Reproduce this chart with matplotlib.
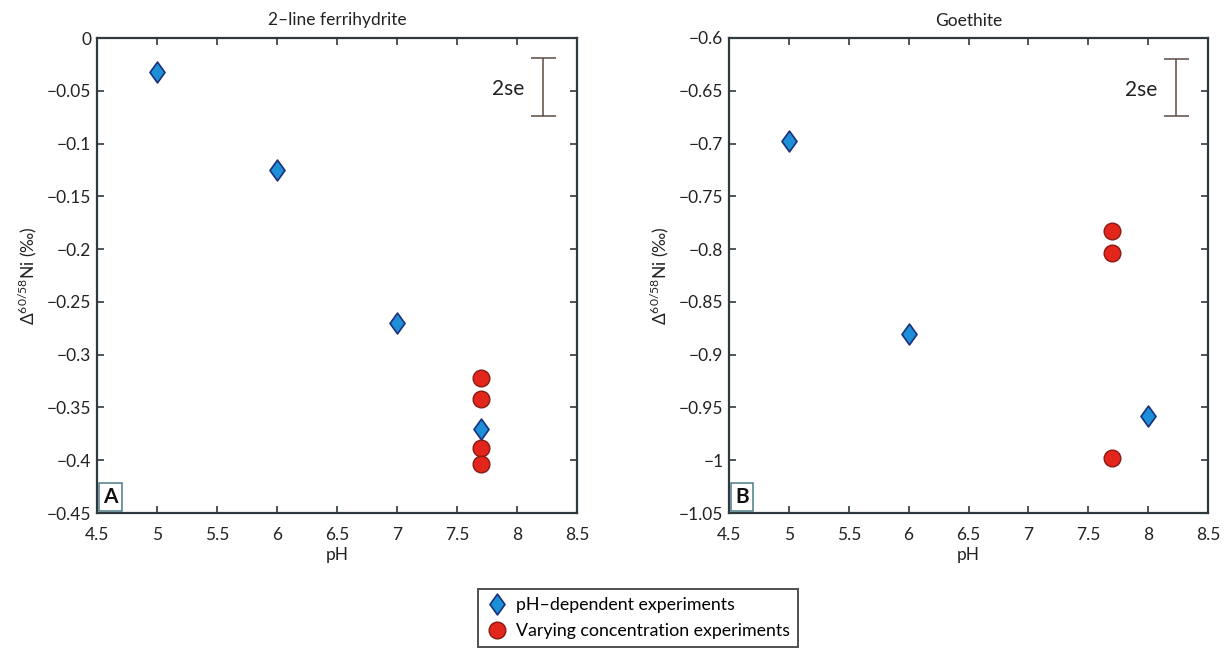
import numpy as np
import matplotlib.pyplot as plt
from matplotlib.path import Path
from matplotlib.lines import Line2D

plt.rcParams['font.family'] = ['Lato', 'DejaVu Sans']
plt.rcParams['mathtext.fontset'] = 'custom'
plt.rcParams['mathtext.rm'] = 'Lato'

# panel A: 2-line ferrihydrite
ph_a_diamond = [5, 6, 7, 7.7]
d_a_diamond = [-0.032, -0.125, -0.270, -0.370]
ph_a_circle = [7.7, 7.7, 7.7, 7.7]
d_a_circle = [-0.322, -0.342, -0.388, -0.404]
se_a = [8.22, -0.019, -0.074]   # x, top, bottom

# panel B: goethite
ph_b_diamond = [5, 6, 8]
d_b_diamond = [-0.698, -0.880, -0.958]
ph_b_circle = [7.7, 7.7, 7.7]
d_b_circle = [-0.783, -0.804, -0.998]
se_b = [8.23, -0.620, -0.674]

titles = ['2–line ferrihydrite', 'Goethite']
ylims = [(-0.45, 0), (-1.05, -0.6)]
panel_tags = ['A', 'B']

blue = '#1c8fd8'
blue_edge = '#1b2f7a'
red = '#e3261b'
red_edge = '#8a1a12'
dark = '#2f3a3e'

rhomb = Path([(0, 1), (0.72, 0), (0, -1), (-0.72, 0), (0, 1)],
             [Path.MOVETO, Path.LINETO, Path.LINETO, Path.LINETO, Path.CLOSEPOLY])


def fmt(v):
    v = round(v, 2)
    if abs(v) < 1e-9:
        return '0'
    return ('%g' % v).replace('-', '−')


fig = plt.figure(figsize=(12.29, 6.55), dpi=100)
ax1 = fig.add_axes([97 / 1229, 142 / 655, 480 / 1229, 475 / 655])
ax2 = fig.add_axes([729 / 1229, 142 / 655, 479 / 1229, 475 / 655])

panels = [
    (ax1, ph_a_diamond, d_a_diamond, ph_a_circle, d_a_circle, se_a),
    (ax2, ph_b_diamond, d_b_diamond, ph_b_circle, d_b_circle, se_b),
]

for i, (ax, xd, yd, xc, yc, se) in enumerate(panels):
    ax.plot(xc, yc, linestyle='none', marker='o', markersize=12,
            markerfacecolor=red, markeredgecolor=red_edge, markeredgewidth=1)
    ax.plot(xd, yd, linestyle='none', marker=rhomb, markersize=15,
            markerfacecolor=blue, markeredgecolor=blue_edge, markeredgewidth=1.2)

    # 2se bar
    mid = (se[1] + se[2]) / 2
    ax.errorbar([se[0]], [mid], yerr=[[mid - se[2]], [se[1] - mid]], fmt='none',
                ecolor='#5b4a44', elinewidth=1.1, capsize=9, capthick=1.1)
    ax.text(se[0] - 0.29, se[1] - 0.029, '2se', fontsize=15, color='#222',
            ha='center', va='center')

    ax.set_xlim(4.5, 8.5)
    ax.set_ylim(*ylims[i])
    ax.set_xticks(np.arange(4.5, 8.51, 0.5))
    ax.set_xticklabels(['4.5', '5', '5.5', '6', '6.5', '7', '7.5', '8', '8.5'])
    yt = np.arange(ylims[i][0], ylims[i][1] + 0.001, 0.05)
    ax.set_yticks(yt)
    ax.set_yticklabels([fmt(v) for v in yt])
    ax.tick_params(direction='in', top=True, right=True, length=5, width=1.2,
                   labelsize=12.5, colors=dark, labelcolor='#222', pad=4)
    ax.tick_params(axis='x', pad=10)
    for s in ax.spines.values():
        s.set_linewidth(1.6)
        s.set_color(dark)
    ax.set_title(titles[i], fontsize=12.5, color='#222', pad=9)
    ax.set_xlabel('pH', fontsize=12.5, color='#222', labelpad=3)
    ax.set_ylabel(r'$\Delta^{60/58}$Ni (‰)', fontsize=12.5, color='#222', labelpad=6)
    ax.text(0.013, 0.012, panel_tags[i], transform=ax.transAxes, fontsize=15,
            fontweight='bold', ha='left', va='bottom', color='#111',
            bbox=dict(boxstyle='square,pad=0.2', facecolor='white',
                      edgecolor='#4d7a86', linewidth=1.1))

handles = [
    Line2D([], [], linestyle='none', marker=rhomb, markersize=15,
           markerfacecolor=blue, markeredgecolor=blue_edge, markeredgewidth=1.2),
    Line2D([], [], linestyle='none', marker='o', markersize=12,
           markerfacecolor=red, markeredgecolor=red_edge, markeredgewidth=1),
]
leg = fig.legend(handles, ['pH–dependent experiments', 'Varying concentration experiments'],
                 loc='upper left', bbox_to_anchor=(478 / 1229, 1 - 589 / 655),
                 fontsize=12.8, frameon=True, fancybox=False, handletextpad=0.5,
                 handlelength=1.2, borderpad=0.45, labelspacing=0.55, borderaxespad=0)
leg.get_frame().set_edgecolor('#222')
leg.get_frame().set_linewidth(1.4)

fig.savefig('out.png', dpi=100)
plt.close()
